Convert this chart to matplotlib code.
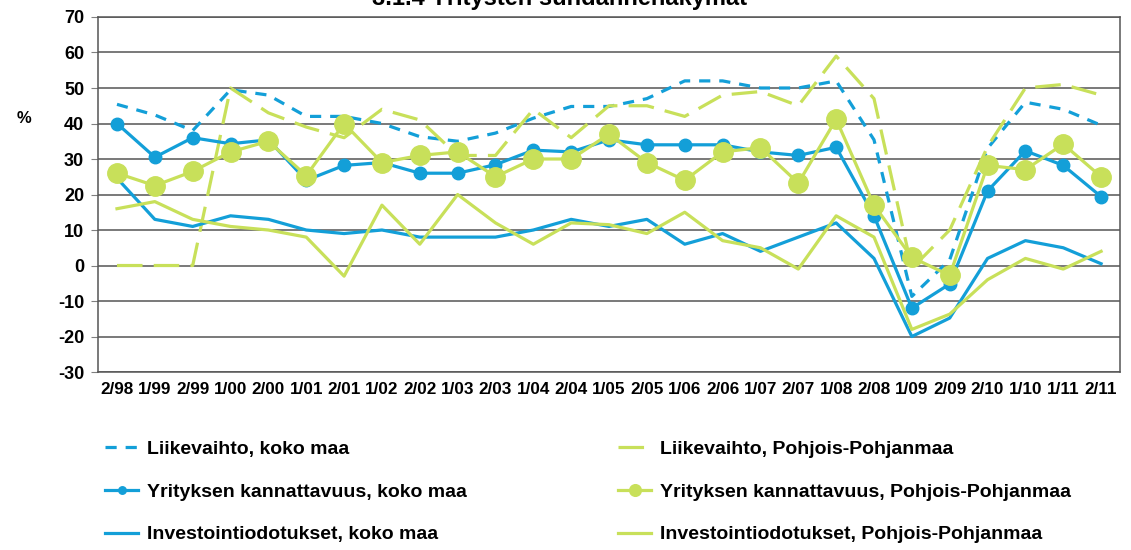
import matplotlib
matplotlib.use("Agg")
import matplotlib.pyplot as plt
import numpy as np

plt.rcParams["font.family"] = ["Liberation Sans", "DejaVu Sans"]
plt.rcParams["font.weight"] = "bold"
plt.rcParams["axes.unicode_minus"] = False

BLUE = "#139fd8"
GREEN = "#c8e05a"

CATEGORIES = [
    "2/98", "1/99", "2/99", "1/00", "2/00", "1/01", "2/01", "1/02", "2/02",
    "1/03", "2/03", "1/04", "2/04", "1/05", "2/05", "1/06", "2/06", "1/07",
    "2/07", "1/08", "2/08", "1/09", "2/09", "2/10", "1/10", "1/11", "2/11",
]

liikevaihto_koko = [45.4, 42.4, 38, 49.5, 48, 42, 42, 40, 36.3, 35, 37.3, 41.5,
                    44.8, 44.8, 47, 52, 52, 50, 50, 52, 35.4, -8.7, 1.6, 33,
                    46, 44, 39.5]
liikevaihto_pp = [0, 0, 0, 50, 43, 39, 36, 44, 41, 31, 31, 44, 36, 45, 45, 42,
                  48, 49, 45, 59, 47, -0.8, 10, 33.5, 50, 51, 48]
kannattavuus_koko = [40, 30.5, 36, 34.3, 35.4, 24, 28.2, 29, 26, 26, 28.4, 32.5,
                     32, 35.4, 34, 34, 34, 32, 31, 33.3, 14, -12, -5.2, 21,
                     32.3, 28.2, 19.4]
kannattavuus_pp = [26, 22.5, 26.5, 32, 35, 25.3, 40, 29, 31, 32, 25, 30, 30, 37,
                   29, 24, 32, 33.2, 23.2, 41.2, 17, 2.3, -2.8, 28.2, 27, 34.2,
                   25]
investointi_koko = [24.6, 13, 11, 14, 13, 10, 9, 10, 8, 8, 8, 10, 13, 11, 13, 6,
                    9, 4, 8, 12, 2, -20, -14.8, 2, 7, 5, 0.5]
investointi_pp = [16, 18, 13, 11, 10, 8, -3, 17, 6, 20, 12, 6, 12, 11.5, 9, 15,
                  7, 5, -1, 14, 8, -18, -13.7, -4, 2, -1, 4]

TITLE = "3.1.4 Yritysten suhdannenäkymät"

fig = plt.figure(figsize=(11.31, 5.5), dpi=100)
ax = fig.add_axes([0.0867, 0.3236, 0.9036, 0.6455])

xs = np.arange(len(CATEGORIES))
lw = 2.3

l1, = ax.plot(xs, liikevaihto_koko, color=BLUE, lw=lw, dashes=(3.5, 2.8),
              label="Liikevaihto, koko maa")
l2, = ax.plot(xs, liikevaihto_pp, color=GREEN, lw=lw, dashes=(8, 3.5),
              label="Liikevaihto, Pohjois-Pohjanmaa")
l3, = ax.plot(xs, kannattavuus_koko, color=BLUE, lw=lw, marker="o", ms=9,
              label="Yrityksen kannattavuus, koko maa")
l5, = ax.plot(xs, investointi_koko, color=BLUE, lw=lw,
              label="Investointiodotukset, koko maa")
l6, = ax.plot(xs, investointi_pp, color=GREEN, lw=lw,
              label="Investointiodotukset, Pohjois-Pohjanmaa")
l4, = ax.plot(xs, kannattavuus_pp, color=GREEN, lw=lw, marker="o", ms=14,
              label="Yrityksen kannattavuus, Pohjois-Pohjanmaa")

ax.set_xlim(-0.5, len(CATEGORIES) - 0.5)
ax.set_ylim(-30, 70)
ax.set_yticks(np.arange(-30, 71, 10))
ax.set_xticks(xs)
ax.set_xticklabels(CATEGORIES)
ax.tick_params(axis="x", length=0, labelsize=12.3, pad=7)
ax.tick_params(axis="y", length=5, labelsize=13, color="#808080",
               direction="out", pad=5)
for lbl in ax.get_xticklabels() + ax.get_yticklabels():
    lbl.set_fontweight("bold")
ax.grid(axis="y", color="#555555", lw=1.1)
ax.set_axisbelow(True)
for sp in ax.spines.values():
    sp.set_color("#555555")
    sp.set_linewidth(1.1)

fig.text(0.015, 0.785, "%", fontsize=12, fontweight="bold", va="center")
fig.text(0.495, 1.003, TITLE, fontsize=17, fontweight="bold", ha="center",
         va="center")

leg = fig.legend(handles=[l1, l3, l5, l2, l4, l6], ncol=2, loc="upper left",
                 bbox_to_anchor=(0.086, 0.214), frameon=False, fontsize=14,
                 handlelength=1.7, handletextpad=0.45, columnspacing=7.8,
                 labelspacing=1.3, markerscale=0.6, borderaxespad=0)
for t in leg.get_texts():
    t.set_fontweight("bold")

fig.savefig("out.png", dpi=100)
